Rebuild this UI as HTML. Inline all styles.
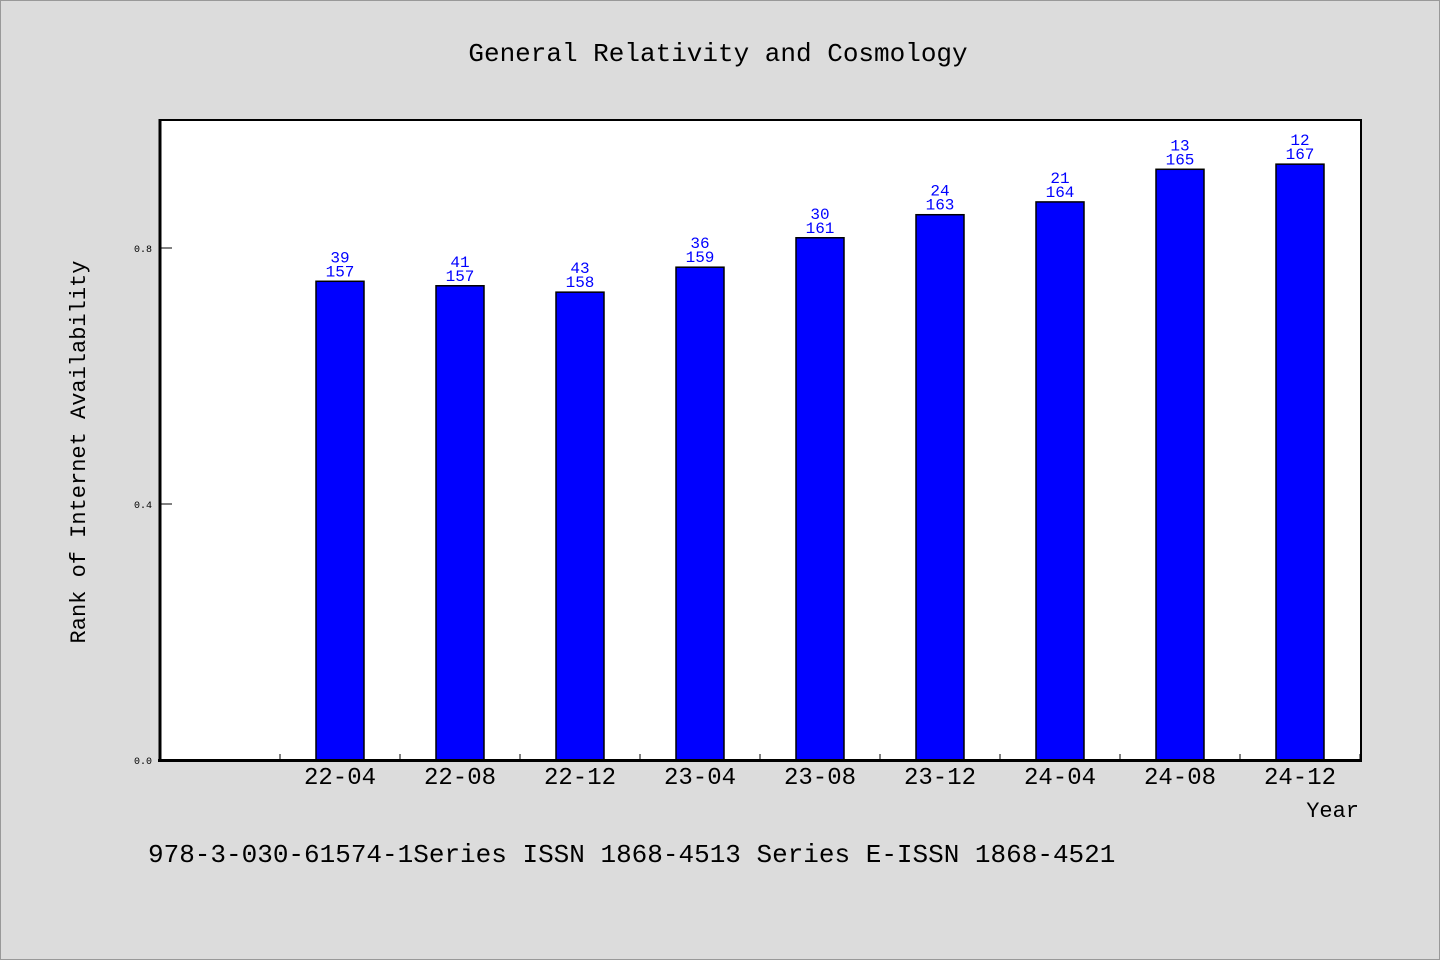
<!DOCTYPE html>
<html><head><meta charset="utf-8"><style>
body{margin:0;background:#dcdcdc;}
svg{display:block;font-family:"WenQuanYi Zen Hei","Liberation Mono",monospace;}
</style></head><body>
<svg width="1440" height="960" xmlns="http://www.w3.org/2000/svg">
<rect x="0.5" y="0.5" width="1439" height="959" fill="#dcdcdc" stroke="#999"/>
<text x="718" y="61" font-size="26" text-anchor="middle">General Relativity and Cosmology</text>
<rect x="160" y="120" width="1201" height="640" fill="#fff" stroke="#000" stroke-width="2"/>
<g id="bars"></g>
<line x1="160" y1="119" x2="160" y2="762" stroke="#000" stroke-width="3"/>
<line x1="158" y1="760.5" x2="1362" y2="760.5" stroke="#000" stroke-width="3"/>
<g id="axes"></g>
<text transform="translate(85,452) rotate(-90)" font-size="22" text-anchor="middle">Rank of Internet Availability</text>
<text x="1359" y="817" font-size="22" text-anchor="end">Year</text>
<text x="148" y="862" font-size="26">978-3-030-61574-1Series ISSN 1868-4513 Series E-ISSN 1868-4521</text>
</svg>
<script>
const categories=["22-04","22-08","22-12","23-04","23-08","23-12","24-04","24-08","24-12"];
const values=[0.748,0.741,0.731,0.770,0.816,0.852,0.872,0.923,0.931];
const ranks=[39,41,43,36,30,24,21,13,12];
const totals=[157,157,158,159,161,163,164,165,167];
const yTicks=[0.0,0.4,0.8];
const NS="http://www.w3.org/2000/svg";
const x0=160,slot=120,y0=760,ppu=640;
const xc=i=>x0+slot*(i+1)+slot/2;
const y=v=>y0-v*ppu;
function mk(t,a,p){const e=document.createElementNS(NS,t);for(const k in a)e.setAttribute(k,a[k]);p.appendChild(e);return e;}
const bars=document.getElementById('bars'),axes=document.getElementById('axes');
categories.forEach((c,i)=>{
 const r=mk('rect',{x:xc(i)-24,y:y(values[i]),width:48,height:y0-y(values[i]),fill:'#0000ff',stroke:'#000','stroke-width':1.5},bars);
 
 
 const t1=mk('text',{x:xc(i),y:y(values[i])-19,'font-size':16,fill:'#0000ff','text-anchor':'middle'},bars);t1.textContent=ranks[i];
 
 
 const t2=mk('text',{x:xc(i),y:y(values[i])-5,'font-size':16,fill:'#0000ff','text-anchor':'middle'},bars);t2.textContent=totals[i];
 
 
 const tl=mk('text',{x:xc(i),y:784,'font-size':24,'text-anchor':'middle'},axes);tl.textContent=c;
 
 
});
for(let i=0;i<=categories.length;i++){
 const tk=mk('line',{x1:x0+slot*(i+1),y1:y0,x2:x0+slot*(i+1),y2:y0-6,stroke:'#000'},axes);
 
 
}
yTicks.forEach(v=>{
 const tk=mk('line',{x1:x0,y1:y(v),x2:x0+12,y2:y(v),stroke:'#000'},axes);
 
 
 const tl=mk('text',{x:152,y:y(v)+4,'font-size':10,'text-anchor':'end'},axes);tl.textContent=v.toFixed(1);
 
 
});
</script>
</body></html>
